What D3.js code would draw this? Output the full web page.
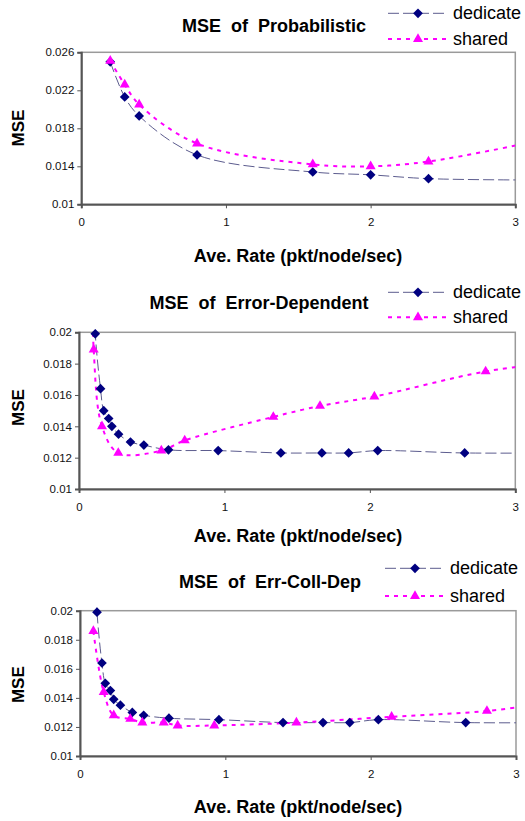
<!DOCTYPE html>
<html>
<head>
<meta charset="utf-8">
<script src="https://cdn.jsdelivr.net/npm/d3@7"></script>
<style>
  body { margin: 0; background: #fff; }
  svg { display: block; font-family: "Liberation Sans", Arial, sans-serif; }
</style>
</head>
<body>
<div class="chart"></div>
<script>
// ---- data ----
const xTicks = [0, 1, 2, 3];

// MSE of Probabilistic
const probTicks = [0.01, 0.014, 0.018, 0.022, 0.026];
const probDedX = [0.2, 0.3, 0.4, 0.8, 1.6, 2.0, 2.4, 3.2];
const probDedY = [0.0250, 0.0213, 0.0193, 0.0152, 0.0134, 0.0131, 0.0127, 0.01255];
const probShX = [0.2, 0.3, 0.4, 0.8, 1.6, 2.0, 2.4, 3.2];
const probShY = [0.0251, 0.0226, 0.0205, 0.0164, 0.0142, 0.0140, 0.0145, 0.0168];

// MSE of Error-Dependent
const errTicks = [0.01, 0.012, 0.014, 0.016, 0.018, 0.02];
const errDedX = [0.10, 0.112, 0.148, 0.170, 0.204, 0.226, 0.272, 0.354, 0.446, 0.615, 0.957, 1.388, 1.670, 1.854, 2.054, 2.652, 3.3];
const errDedY = [0.0240, 0.0199, 0.0164, 0.0150, 0.0145, 0.0140, 0.0135, 0.0130, 0.0128, 0.0125, 0.01245, 0.0123, 0.0123, 0.0123, 0.01245, 0.0123, 0.0123];
const errShX = [0.09, 0.101, 0.158, 0.270, 0.566, 0.727, 1.336, 1.657, 2.031, 2.796, 3.3];
const errShY = [0.0240, 0.0189, 0.0140, 0.0123, 0.01245, 0.0131, 0.0146, 0.0153, 0.0159, 0.0175, 0.0181];

// MSE of Err-Coll-Dep
const collTicks = [0.01, 0.012, 0.014, 0.016, 0.018, 0.02];
const collDedX = [0.10, 0.117, 0.151, 0.174, 0.209, 0.232, 0.278, 0.360, 0.438, 0.612, 0.956, 1.397, 1.672, 1.856, 2.053, 2.654, 3.3];
const collDedY = [0.0240, 0.0199, 0.0164, 0.0150, 0.0145, 0.0139, 0.0135, 0.0130, 0.0128, 0.0126, 0.0125, 0.0123, 0.0123, 0.0123, 0.0125, 0.0123, 0.0123];
const collShX = [0.092, 0.163, 0.232, 0.346, 0.429, 0.576, 0.672, 0.924, 1.489, 2.144, 2.800, 3.3];
const collShY = [0.0186, 0.0144, 0.0128, 0.01255, 0.0123, 0.0123, 0.0121, 0.0121, 0.0123, 0.0127, 0.0131, 0.01375];

const seriesNames = ["dedicate", "shared"];

const width = 525;
const height = 821;
const dedLine = "#5c5c8e";
const dedMark = "#000080";
const shColor = "#ff00ff";

const svg = d3.select(".chart")
  .append("svg")
  .attr("width", width)
  .attr("height", height);

const zip = (xs, ys) => xs.map((x, i) => ({ x: x, y: ys[i] }));

const panels = [
  { title: "MSE  of  Probabilistic", titleX: 274, titleY: 31.5,
    left: 81.3, right: 515.3, top: 52.3, bottom: 204.3,
    yDomain: [0.01, 0.026], yTicks: probTicks,
    ded: zip(probDedX, probDedY), sh: zip(probShX, probShY),
    legX: 388, legY1: 13.3, legY2: 39, xTitleY: 261.5, yTitleY: 128 },
  { title: "MSE  of  Error-Dependent", titleX: 259, titleY: 309,
    left: 79, right: 515.3, top: 332.3, bottom: 489,
    yDomain: [0.01, 0.02], yTicks: errTicks,
    ded: zip(errDedX, errDedY), sh: zip(errShX, errShY),
    legX: 388, legY1: 292.3, legY2: 317.3, xTitleY: 541.5, yTitleY: 407.5 },
  { title: "MSE  of  Err-Coll-Dep", titleX: 270, titleY: 588,
    left: 80, right: 516, top: 610.7, bottom: 756,
    yDomain: [0.01, 0.02], yTicks: collTicks,
    ded: zip(collDedX, collDedY), sh: zip(collShX, collShY),
    legX: 385, legY1: 568.3, legY2: 596, xTitleY: 813, yTitleY: 684.7 }
];

const diamond = d3.symbol().type(d3.symbolDiamond2).size(60);
const triangle = d3.symbol().type(d3.symbolTriangle2).size(72);

panels.forEach((p, k) => {
  const x = d3.scaleLinear().domain([0, 3]).range([p.left, p.right]);
  const y = d3.scaleLinear().domain(p.yDomain).range([p.bottom, p.top]);
  const g = svg.append("g");

  // frame
  g.append("rect")
    .attr("x", p.left).attr("y", p.top)
    .attr("width", p.right - p.left).attr("height", p.bottom - p.top)
    .attr("fill", "none").attr("stroke", "#9a9a9a").attr("stroke-width", 1.5);

  // y axis
  const ya = g.append("g")
    .attr("transform", `translate(${p.left},0)`)
    .call(d3.axisLeft(y).tickValues(p.yTicks).tickSize(4).tickPadding(3)
      .tickFormat((d) => +d.toFixed(4) + ""));
  ya.select(".domain").attr("stroke", "#555").attr("stroke-width", 2);
  ya.selectAll(".tick line").attr("stroke", "#555");
  ya.selectAll("text").attr("font-size", 11.5).attr("fill", "#111")
    .attr("font-family", "Liberation Sans, Arial, sans-serif");

  // x axis
  const xa = g.append("g")
    .attr("transform", `translate(0,${p.bottom})`)
    .call(d3.axisBottom(x).tickValues(xTicks).tickSize(4).tickPadding(10)
      .tickFormat(d3.format("d")));
  xa.select(".domain").attr("stroke", "#555").attr("stroke-width", 2);
  xa.selectAll(".tick line").attr("stroke", "#555");
  xa.selectAll("text").attr("font-size", 11.5).attr("fill", "#111")
    .attr("font-family", "Liberation Sans, Arial, sans-serif");

  // clip for the lines only
  const clipId = "clip" + k;
  svg.append("clipPath").attr("id", clipId)
    .append("rect")
    .attr("x", p.left).attr("y", p.top - 3)
    .attr("width", p.right - p.left).attr("height", p.bottom - p.top + 3);

  const line = d3.line()
    .x((d) => x(d.x))
    .y((d) => y(d.y))
    .curve(d3.curveCatmullRom.alpha(0.5));

  const plot = g.append("g").attr("clip-path", `url(#${clipId})`);

  plot.append("path")
    .datum(p.ded)
    .attr("d", line)
    .attr("fill", "none")
    .attr("stroke", dedLine)
    .attr("stroke-width", 1)
    .attr("stroke-dasharray", "11,4");

  plot.append("path")
    .datum(p.sh)
    .attr("d", line)
    .attr("fill", "none")
    .attr("stroke", shColor)
    .attr("stroke-width", 2)
    .attr("stroke-dasharray", "4,5");

  // markers (points outside the axis range are not shown)
  g.selectAll("path.ded")
    .data(p.ded.filter((d) => d.x <= 3 && d.y <= p.yDomain[1]))
    .enter()
    .append("path")
    .attr("class", "ded")
    .attr("transform", (d) => `translate(${x(d.x)},${y(d.y)})`)
    .attr("d", diamond)
    .attr("fill", dedMark);

  g.selectAll("path.sh")
    .data(p.sh.filter((d) => d.x <= 3 && d.y <= p.yDomain[1]))
    .enter()
    .append("path")
    .attr("class", "sh")
    .attr("transform", (d) => `translate(${x(d.x)},${y(d.y)})`)
    .attr("d", triangle)
    .attr("fill", shColor);

  // title
  g.append("text")
    .attr("x", p.titleX).attr("y", p.titleY)
    .attr("text-anchor", "middle")
    .attr("font-size", 18).attr("font-weight", "bold")
    .style("white-space", "pre")
    .text(p.title);

  // axis titles
  g.append("text")
    .attr("x", 298).attr("y", p.xTitleY)
    .attr("text-anchor", "middle")
    .attr("font-size", 18).attr("font-weight", "bold")
    .text("Ave. Rate (pkt/node/sec)");

  g.append("text")
    .attr("transform", `translate(24,${p.yTitleY}) rotate(-90)`)
    .attr("text-anchor", "middle")
    .attr("font-size", 17).attr("font-weight", "bold")
    .text("MSE");

  // legend
  const legY = [p.legY1, p.legY2];
  seriesNames.forEach((name, i) => {
    const ly = legY[i];
    g.append("line")
      .attr("x1", p.legX).attr("x2", p.legX + 60)
      .attr("y1", ly).attr("y2", ly)
      .attr("stroke", i === 0 ? dedLine : shColor)
      .attr("stroke-width", i === 0 ? 1 : 2)
      .attr("stroke-dasharray", i === 0 ? "11,4" : "4,5");
    g.append("path")
      .attr("transform", `translate(${p.legX + 30},${ly})`)
      .attr("d", i === 0 ? diamond : triangle)
      .attr("fill", i === 0 ? dedMark : shColor);
    g.append("text")
      .attr("x", p.legX + 65).attr("y", ly + 6)
      .attr("font-size", 18)
      .text(name);
  });
});
</script>
</body>
</html>
